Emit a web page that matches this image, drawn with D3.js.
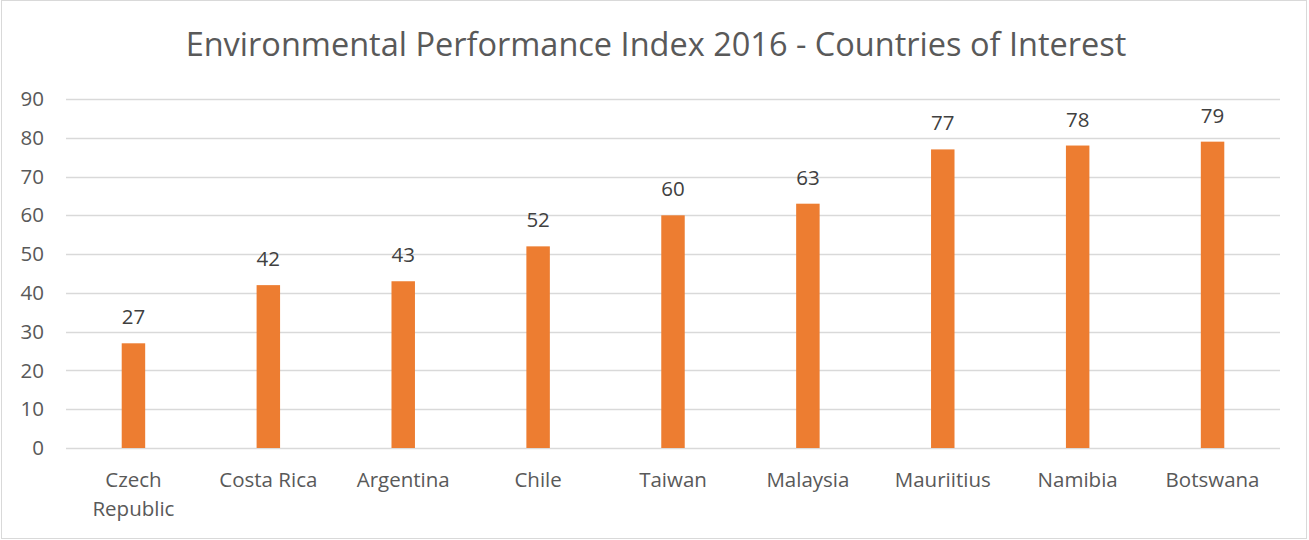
<!DOCTYPE html>
<html>
<head>
<meta charset="utf-8">
<script src="https://cdn.jsdelivr.net/npm/d3@7"></script>
<style>
  body { margin: 0; background: #fff; }
  text { font-family: "Open Sans", "Noto Sans", sans-serif; }
</style>
</head>
<body>
<div id="chart"></div>
<script>
// chart data
var countries = ['Czech Republic', 'Costa Rica', 'Argentina', 'Chile', 'Taiwan', 'Malaysia', 'Mauriitius', 'Namibia', 'Botswana'];
var scores = [27, 42, 43, 52, 60, 63, 77, 78, 79];
var yTicks = [0, 10, 20, 30, 40, 50, 60, 70, 80, 90];
var title = 'Environmental Performance Index 2016 - Countries of Interest';

var W = 1309, H = 540,
    m = {top: 99, right: 29, bottom: 92, left: 66};

var svg = d3.select('#chart').append('svg')
  .attr('width', W).attr('height', H);

// outer border
svg.append('rect')
  .attr('x', 1.5).attr('y', 0.5).attr('width', W - 4).attr('height', H - 2)
  .attr('fill', '#fff').attr('stroke', '#d9d9d9');

var x = d3.scaleBand().domain(countries).range([m.left, W - m.right]).paddingInner(0.826).paddingOuter(0.413);
var y = d3.scaleLinear().domain([0, 90]).range([H - m.bottom, m.top]);

// gridlines
svg.append('g').selectAll('line').data(yTicks).enter().append('line')
  .attr('x1', m.left).attr('x2', W - m.right)
  .attr('y1', function(d) { return Math.round(y(d)) + 0.5; })
  .attr('y2', function(d) { return Math.round(y(d)) + 0.5; })
  .attr('stroke', '#d9d9d9').attr('stroke-width', 1.3);

// y axis labels
var yAxis = svg.append('g').attr('transform', 'translate(' + (m.left - 22) + ',0)')
  .call(d3.axisLeft(y).tickValues(yTicks).tickSize(0).tickPadding(0));
yAxis.select('.domain').remove();
yAxis.selectAll('text').attr('font-size', 20.5).attr('fill', '#595959')
  .style('font-family', '"Open Sans", sans-serif');

// bars
svg.append('g').selectAll('rect').data(scores).enter().append('rect')
  .attr('x', function(d, i) { return x(countries[i]); })
  .attr('width', x.bandwidth())
  .attr('y', function(d) { return y(d); })
  .attr('height', function(d) { return y(0) - y(d); })
  .attr('fill', '#ed7d31');

// value labels
svg.append('g').selectAll('text').data(scores).enter().append('text')
  .attr('x', function(d, i) { return x(countries[i]) + x.bandwidth() / 2; })
  .attr('y', function(d) { return y(d) - 19; })
  .attr('text-anchor', 'middle')
  .attr('font-size', 20.5).attr('fill', '#404040')
  .text(function(d) { return d; });

// category labels (wrap two-word names that are too long)
var xl = svg.append('g').selectAll('text').data(countries).enter().append('text')
  .attr('x', function(d) { return x(d) + x.bandwidth() / 2; })
  .attr('y', y(0) + 39)
  .attr('text-anchor', 'middle')
  .attr('font-size', 20.5).attr('fill', '#595959');
xl.each(function(d) {
  var lines = d === 'Czech Republic' ? ['Czech', 'Republic'] : [d];
  var t = d3.select(this);
  lines.forEach(function(s, k) {
    t.append('tspan').attr('x', t.attr('x')).attr('dy', k ? 29 : 0).text(s);
  });
});

// title
svg.append('text')
  .attr('x', 656).attr('y', 56)
  .attr('text-anchor', 'middle')
  .attr('font-size', 32.5).attr('fill', '#595959')
  .text(title);
</script>
</body>
</html>
